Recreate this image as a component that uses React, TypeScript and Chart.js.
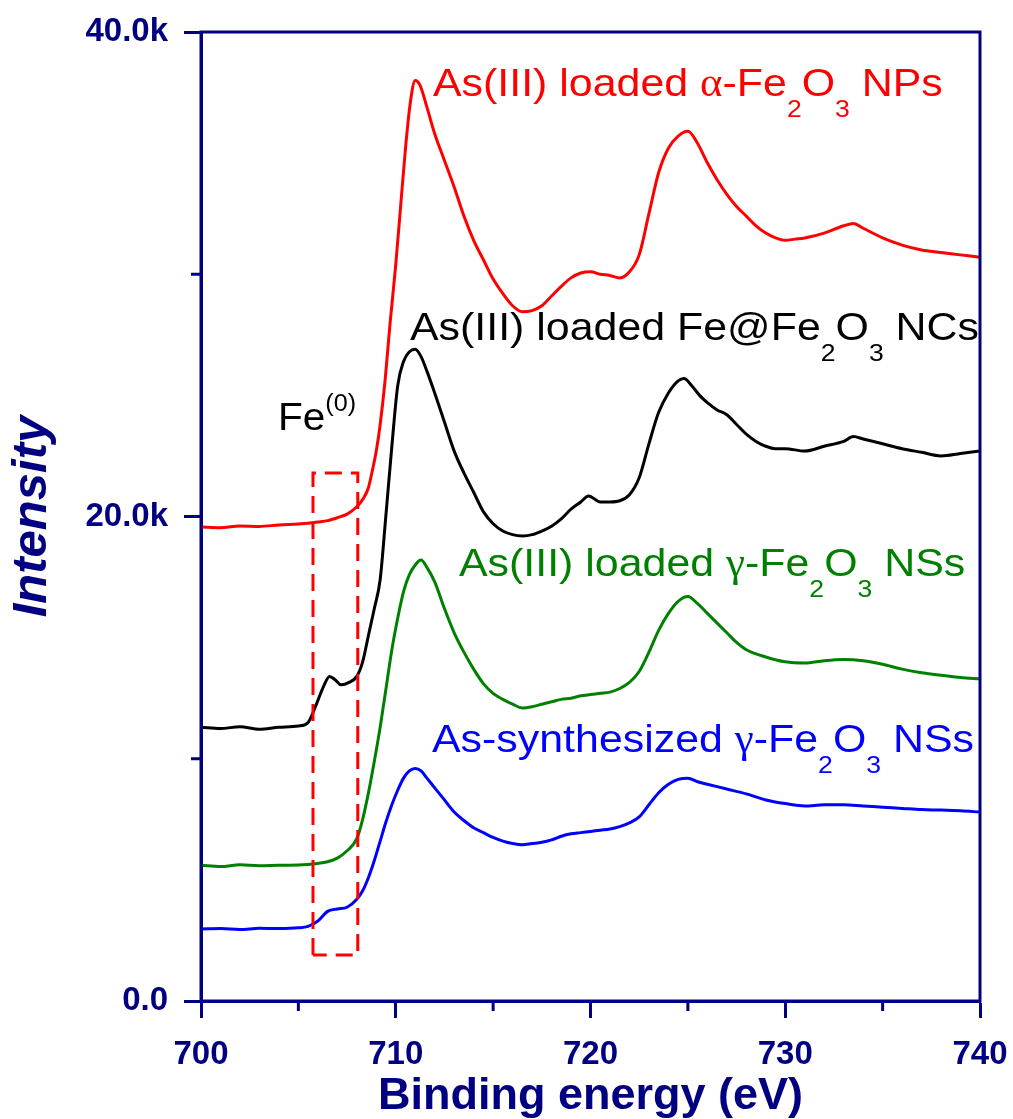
import React, { useEffect, useRef } from 'react';
import { Chart, registerables } from 'chart.js';

Chart.register(...registerables);

const NAVY = '#000080';
const SANS = '"Liberation Sans", Arial, sans-serif';
const SERIF = '"Liberation Serif", "DejaVu Serif", serif';

// Binding energy (eV), intensity (counts)
const alphaNPs: [number, number][] = [
  [700, 19570], [701, 19540], [702, 19610], [703, 19590], [704, 19650], [705, 19690],
  [705.5, 19720], [706, 19770], [706.5, 19830], [707, 19950], [707.5, 20100], [708, 20400],
  [708.3, 20700], [708.6, 21200], [708.8, 21900], [709, 22700], [709.2, 23800], [709.45, 25600],
  [709.7, 27900], [710, 30400], [710.25, 32800], [710.5, 35200], [710.75, 37100], [711, 38000],
  [711.25, 37800], [711.6, 36900], [712, 35800], [712.5, 34700], [713, 33600], [713.5, 32400],
  [714, 31400], [714.5, 30600], [715, 29800], [715.5, 29200], [716, 28700], [716.5, 28450],
  [717, 28500], [717.5, 28700], [718, 29100], [718.5, 29500], [719, 29850], [719.5, 30050],
  [720, 30100], [720.5, 30000], [721, 29950], [721.5, 29850], [722, 30100], [722.5, 30800],
  [723, 32500], [723.5, 34200], [724, 35200], [724.5, 35700], [725, 35900], [725.5, 35400],
  [726, 34600], [726.5, 33900], [727, 33300], [727.5, 32800], [728, 32400], [728.5, 32000],
  [729, 31700], [729.5, 31500], [730, 31400], [730.5, 31450], [731, 31500], [732, 31700],
  [733, 32000], [733.5, 32100], [734, 31900], [735, 31500], [736, 31200], [737, 31000],
  [738, 30900], [739, 30800], [740, 30700],
];

const feAtFe2O3NCs: [number, number][] = [
  [700, 11300], [701, 11250], [702, 11320], [703, 11220], [704, 11300], [705, 11350],
  [705.5, 11500], [705.9, 12200], [706.3, 13000], [706.6, 13400], [706.9, 13250], [707.2, 13050],
  [707.6, 13150], [708, 13400], [708.3, 14000], [708.6, 15100], [708.9, 16200], [709.2, 17400],
  [709.5, 20100], [709.8, 22900], [710.1, 25400], [710.4, 26400], [710.7, 26800], [711, 26900],
  [711.3, 26600], [711.6, 26000], [712, 25100], [712.5, 23900], [713, 22700], [713.5, 21800],
  [714, 21000], [714.5, 20200], [715, 19700], [715.5, 19400], [716, 19250], [716.5, 19200],
  [717, 19250], [717.5, 19400], [718, 19600], [718.5, 19900], [719, 20300], [719.5, 20600],
  [719.9, 20850], [720.5, 20600], [721, 20600], [721.5, 20650], [722, 20900], [722.5, 21600],
  [723, 23000], [723.5, 24300], [724, 25100], [724.5, 25600], [724.8, 25700], [725.2, 25400],
  [725.6, 25000], [726, 24700], [726.5, 24400], [727, 24200], [727.5, 23800], [728, 23400],
  [728.5, 23100], [729, 22900], [729.5, 22800], [730, 22800], [731, 22700], [732, 22900],
  [733, 23100], [733.5, 23300], [734, 23200], [735, 23000], [736, 22800], [737, 22650],
  [738, 22500], [739, 22600], [740, 22700],
];

const gammaLoadedNSs: [number, number][] = [
  [700, 5600], [701, 5550], [702, 5620], [703, 5580], [704, 5600], [705, 5610],
  [706, 5680], [706.5, 5750], [707, 5900], [707.5, 6200], [708, 6700], [708.3, 7500],
  [708.6, 8600], [708.9, 9900], [709.2, 11300], [709.5, 12900], [709.8, 14500], [710.1, 15800],
  [710.4, 16900], [710.7, 17600], [711, 18000], [711.3, 18200], [711.6, 17900], [712, 17300],
  [712.5, 16200], [713, 15200], [713.5, 14400], [714, 13700], [714.5, 13100], [715, 12700],
  [715.5, 12450], [716, 12250], [716.5, 12100], [717, 12150], [717.5, 12250], [718, 12350],
  [718.5, 12450], [719, 12500], [719.5, 12600], [720, 12650], [720.5, 12700], [721, 12750],
  [721.5, 12900], [722, 13150], [722.5, 13600], [723, 14400], [723.5, 15300], [724, 16000],
  [724.5, 16500], [725, 16700], [725.5, 16400], [726, 16000], [726.5, 15600], [727, 15200],
  [727.5, 14800], [728, 14500], [729, 14200], [730, 14000], [731, 13950], [732, 14050],
  [733, 14100], [734, 14050], [735, 13900], [736, 13700], [737, 13550], [738, 13450],
  [739, 13350], [740, 13300],
];

const gammaSynthNSs: [number, number][] = [
  [700, 2970], [701, 2990], [702, 2950], [703, 3000], [704, 2990], [705, 3020],
  [705.5, 3080], [706, 3300], [706.5, 3700], [707, 3800], [707.5, 3870], [708, 4200],
  [708.3, 4550], [708.6, 5100], [708.9, 5800], [709.2, 6600], [709.5, 7400], [709.8, 8100],
  [710.1, 8700], [710.4, 9200], [710.7, 9500], [711, 9600], [711.3, 9500], [711.6, 9200],
  [712, 8800], [712.5, 8300], [713, 7800], [713.5, 7450], [714, 7150], [714.5, 6950],
  [715, 6750], [715.5, 6600], [716, 6500], [716.5, 6450], [717, 6500], [717.5, 6550],
  [718, 6650], [718.5, 6800], [719, 6900], [719.5, 6950], [720, 7000], [720.5, 7050],
  [721, 7100], [721.5, 7200], [722, 7350], [722.5, 7600], [723, 8100], [723.5, 8600],
  [724, 8950], [724.5, 9150], [725, 9200], [725.5, 9050], [726, 8950], [726.5, 8850],
  [727, 8750], [728, 8550], [729, 8300], [730, 8150], [731, 8050], [732, 8100],
  [733, 8100], [734, 8050], [735, 8000], [736, 7950], [737, 7900], [738, 7880],
  [739, 7850], [740, 7800],
];

// Fe(0) highlight box: energy range and intensity range
const boxEnergy = [705.75, 708.05];
const boxIntensity = [1900, 21800];

const xMajorTicks = [700, 710, 720, 730, 740];
const xMinorTicks = [705, 715, 725, 735];
const yMajorTicks = [0, 20000, 40000];
const yMinorTicks = [10000, 30000];
const yTickLabels = ['0.0', '20.0k', '40.0k'];

type Seg = { t: string; sub?: boolean; sup?: boolean; greek?: boolean };

const labelAlpha: Seg[] = [
  { t: 'As(III) loaded ' }, { t: 'α', greek: true }, { t: '-Fe' }, { t: '2', sub: true },
  { t: 'O' }, { t: '3', sub: true }, { t: ' NPs' },
];
const labelFeNC: Seg[] = [
  { t: 'As(III) loaded Fe@Fe' }, { t: '2', sub: true }, { t: 'O' }, { t: '3', sub: true }, { t: ' NCs' },
];
const labelGammaLoaded: Seg[] = [
  { t: 'As(III) loaded ' }, { t: 'γ', greek: true }, { t: '-Fe' }, { t: '2', sub: true },
  { t: 'O' }, { t: '3', sub: true }, { t: ' NSs' },
];
const labelGammaSynth: Seg[] = [
  { t: 'As-synthesized ' }, { t: 'γ', greek: true }, { t: '-Fe' }, { t: '2', sub: true },
  { t: 'O' }, { t: '3', sub: true }, { t: ' NSs' },
];
const labelFe0: Seg[] = [{ t: 'Fe' }, { t: '(0)', sup: true }];

function drawRich(ctx: CanvasRenderingContext2D, segs: Seg[], x: number, y: number, color: string, size: number, sx: number) {
  ctx.save();
  ctx.translate(x, y);
  ctx.scale(sx, 1);
  ctx.fillStyle = color;
  ctx.textAlign = 'left';
  ctx.textBaseline = 'alphabetic';
  let cx = 0;
  for (const s of segs) {
    const fs = s.sub || s.sup ? size * 0.62 : size;
    ctx.font = `${fs}px ${s.greek ? SERIF : SANS}`;
    const dy = s.sub ? size * 0.55 : s.sup ? -size * 0.5 : 0;
    ctx.fillText(s.t, cx, dy);
    cx += ctx.measureText(s.t).width;
  }
  ctx.restore();
}

const framePlugin = {
  id: 'frameAndMinor',
  afterDraw(chart: any) {
    const { ctx, chartArea } = chart;
    const xs = chart.scales.x;
    const ys = chart.scales.y;
    ctx.save();
    ctx.strokeStyle = NAVY;
    ctx.lineWidth = 3;
    ctx.strokeRect(chartArea.left, chartArea.top, chartArea.right - chartArea.left, chartArea.bottom - chartArea.top);
    ctx.beginPath();
    for (const v of xMinorTicks) {
      const px = xs.getPixelForValue(v);
      ctx.moveTo(px, chartArea.bottom);
      ctx.lineTo(px, chartArea.bottom + 10);
    }
    for (const v of yMinorTicks) {
      const py = ys.getPixelForValue(v);
      ctx.moveTo(chartArea.left, py);
      ctx.lineTo(chartArea.left - 10, py);
    }
    ctx.stroke();
    ctx.restore();

    const size = 39;
    const sx = 1.1;
    drawRich(ctx, labelAlpha, 433, 96, '#ff0000', size, sx);
    drawRich(ctx, labelFeNC, 410, 340, '#000000', size, sx);
    drawRich(ctx, labelGammaLoaded, 459, 576, '#008000', size, sx);
    drawRich(ctx, labelGammaSynth, 432, 752, '#0000ff', size, sx);
    drawRich(ctx, labelFe0, 278, 430, '#000000', size, 1.04);
  },
};

function toXY(arr: [number, number][]) {
  return arr.map(([x, y]) => ({ x, y }));
}

export default function App() {
  const ref = useRef<HTMLCanvasElement | null>(null);
  useEffect(() => {
    if (!ref.current) return;
    const boxData = [
      { x: boxEnergy[0], y: boxIntensity[0] },
      { x: boxEnergy[0], y: boxIntensity[1] },
      { x: boxEnergy[1], y: boxIntensity[1] },
      { x: boxEnergy[1], y: boxIntensity[0] },
      { x: boxEnergy[0], y: boxIntensity[0] },
    ];
    const lineDs = (label: string, data: [number, number][], color: string) => ({
      label,
      data: toXY(data),
      borderColor: color,
      backgroundColor: color,
      borderWidth: 3,
      pointRadius: 0,
      cubicInterpolationMode: 'monotone' as const,
      fill: false,
    });
    const chart = new Chart(ref.current, {
      type: 'line',
      data: {
        datasets: [
          {
            label: 'Fe(0) box',
            data: boxData,
            borderColor: '#ff0000',
            borderWidth: 3,
            borderDash: [17, 9],
            pointRadius: 0,
            tension: 0,
            fill: false,
          } as any,
          lineDs('As(III) loaded α-Fe2O3 NPs', alphaNPs, '#ff0000'),
          lineDs('As(III) loaded Fe@Fe2O3 NCs', feAtFe2O3NCs, '#000000'),
          lineDs('As(III) loaded γ-Fe2O3 NSs', gammaLoadedNSs, '#008000'),
          lineDs('As-synthesized γ-Fe2O3 NSs', gammaSynthNSs, '#0000ff'),
        ],
      },
      options: {
        animation: false,
        responsive: false,
        layout: { padding: { left: 0, right: 33, top: 32, bottom: 0 } },
        plugins: { legend: { display: false }, tooltip: { enabled: false }, title: { display: false } },
        scales: {
          x: {
            type: 'linear',
            min: 700,
            max: 740,
            afterBuildTicks: (scale: any) => {
              scale.ticks = xMajorTicks.map((v) => ({ value: v }));
            },
            afterFit: (scale: any) => {
              scale.height = 118;
              scale.paddingLeft = 0;
              scale.paddingRight = 0;
            },
            ticks: {
              color: NAVY,
              font: { family: SANS, size: 33, weight: 'bold' },
              padding: 17,
              maxRotation: 0,
              callback: (v: any) => String(v),
            },
            grid: { display: true, drawOnChartArea: false, drawTicks: true, tickLength: 17, tickWidth: 3, tickColor: NAVY, color: NAVY },
            border: { display: true, color: NAVY, width: 3 },
            title: {
              display: true,
              text: 'Binding energy (eV)',
              color: NAVY,
              font: { family: SANS, size: 45, weight: 'bold', lineHeight: 1 },
              padding: { top: 0, bottom: 0 },
            },
          },
          y: {
            type: 'linear',
            min: 0,
            max: 40000,
            afterBuildTicks: (scale: any) => {
              scale.ticks = yMajorTicks.map((v) => ({ value: v }));
            },
            afterFit: (scale: any) => {
              scale.width = 201;
              scale.paddingTop = 0;
              scale.paddingBottom = 0;
            },
            ticks: {
              color: NAVY,
              font: { family: SANS, size: 33, weight: 'bold' },
              padding: 16,
              callback: (v: any) => yTickLabels[yMajorTicks.indexOf(Number(v))] ?? '',
            },
            grid: { display: true, drawOnChartArea: false, drawTicks: true, tickLength: 17, tickWidth: 3, tickColor: NAVY, color: NAVY },
            border: { display: true, color: NAVY, width: 3 },
            title: {
              display: true,
              text: 'Intensity',
              color: NAVY,
              font: { family: SANS, size: 49, weight: 'bold', style: 'italic', lineHeight: 1 },
              padding: { top: 8, bottom: 0 },
            },
          },
        },
      },
      plugins: [framePlugin],
    });
    return () => chart.destroy();
  }, []);

  return (
    <div style={{ position: 'absolute', left: 0, top: 0, width: 1013, height: 1119, background: '#ffffff' }}>
      <canvas ref={ref} width={1013} height={1119} style={{ display: 'block' }} />
    </div>
  );
}
